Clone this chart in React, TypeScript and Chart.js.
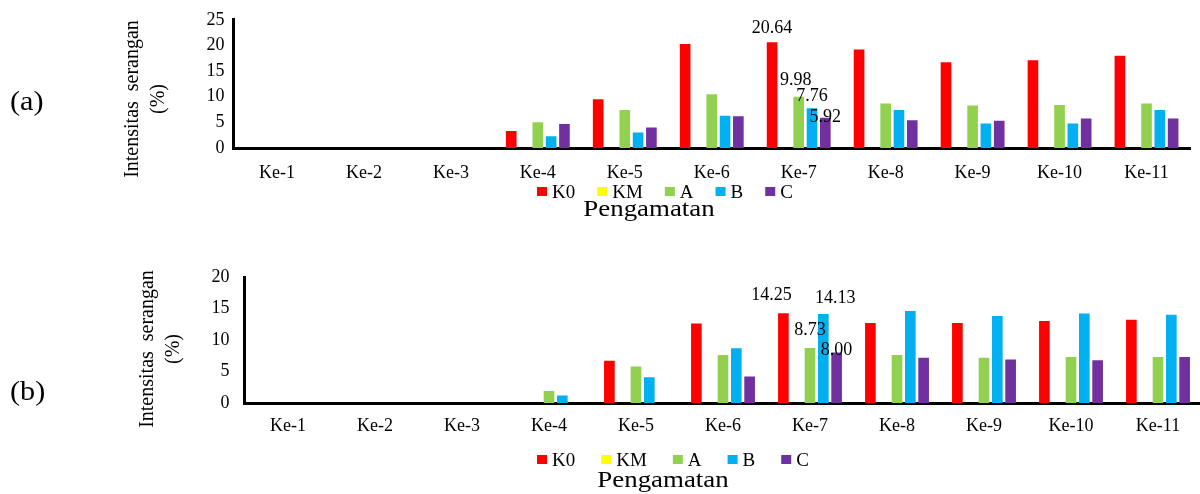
import React, { useEffect, useRef } from "react";
import { Chart, registerables } from "chart.js";

Chart.register(...registerables);

const FONT = "'Liberation Serif', 'Times New Roman', serif";

// ---- data ----
const categories = ["Ke-1", "Ke-2", "Ke-3", "Ke-4", "Ke-5", "Ke-6", "Ke-7", "Ke-8", "Ke-9", "Ke-10", "Ke-11"];
const seriesNames = ["K0", "KM", "A", "B", "C"];
const seriesColors = ["#FF0000", "#FFFF00", "#92D050", "#00B0F0", "#7030A0"];

// Panel (a)
const aK0 = [0, 0, 0, 3.3, 9.5, 20.3, 20.64, 19.2, 16.7, 17.1, 18.0];
const aKM = [0, 0, 0, 0, 0, 0, 0, 0, 0, 0, 0];
const aA = [0, 0, 0, 5.0, 7.4, 10.5, 9.98, 8.7, 8.3, 8.4, 8.7];
const aB = [0, 0, 0, 2.3, 3.0, 6.3, 7.76, 7.4, 4.8, 4.8, 7.4];
const aC = [0, 0, 0, 4.7, 4.0, 6.2, 5.92, 5.4, 5.3, 5.75, 5.75];
const aYMax = 25;

// Panel (b)
const bK0 = [0, 0, 0, 0, 6.7, 12.6, 14.25, 12.7, 12.7, 13.0, 13.2];
const bKM = [0, 0, 0, 0, 0, 0, 0, 0, 0, 0, 0];
const bA = [0, 0, 0, 1.9, 5.8, 7.6, 8.73, 7.6, 7.2, 7.3, 7.3];
const bB = [0, 0, 0, 1.2, 4.1, 8.7, 14.13, 14.6, 13.8, 14.2, 14.0];
const bC = [0, 0, 0, 0, 0, 4.2, 8.0, 7.2, 6.9, 6.8, 7.3];
const bYMax = 20;

const yStep = 5;
const yTitleLine1 = "Intensitas  serangan";
const yTitleLine2 = "(%)";
const xTitle = "Pengamatan";

// value labels shown (series index, category index) with text offsets
const aLabels = [
  { s: 0, i: 6, dx: 0, dy: -14 },
  { s: 2, i: 6, dx: -3, dy: -17 },
  { s: 3, i: 6, dx: 0, dy: -12 },
  { s: 4, i: 6, dx: 0, dy: 0 },
];
const bLabels = [
  { s: 0, i: 6, dx: -12, dy: -18 },
  { s: 2, i: 6, dx: 0, dy: -18 },
  { s: 3, i: 6, dx: 12, dy: -16 },
  { s: 4, i: 6, dx: 0, dy: -2 },
];

type PanelCfg = {
  tag: string;
  values: number[][];
  yMax: number;
  width: number;
  height: number;
  top: number;
  padRight: number;
  padTop: number;
  yW: number;
  xH: number;
  yTickPad: number;
  xTickPad: number;
  tagY: number;
  title1X: number;
  title2X: number;
  titleY: number;
  legendX: number;
  legendY: number;
  legendGap: number;
  xTitleX: number;
  xTitleY: number;
  labels: { s: number; i: number; dx: number; dy: number }[];
};

function stretchText(ctx: CanvasRenderingContext2D, text: string, x: number, y: number, font: string, sx: number, align: CanvasTextAlign, baseline: CanvasTextBaseline) {
  ctx.save();
  ctx.font = font;
  ctx.textAlign = align;
  ctx.textBaseline = baseline;
  ctx.translate(x, y);
  ctx.scale(sx, 1);
  ctx.fillText(text, 0, 0);
  ctx.restore();
}

function overlayPlugin(cfg: PanelCfg) {
  return {
    id: "overlay",
    afterDraw(chart: any) {
      const ctx: CanvasRenderingContext2D = chart.ctx;
      ctx.save();
      ctx.fillStyle = "#000";
      // panel tag
      stretchText(ctx, cfg.tag, 10, cfg.tagY, `28px ${FONT}`, 1.08, "left", "middle");
      // y title (rotated, two lines)
      ctx.font = `20px ${FONT}`;
      ctx.textAlign = "center";
      ctx.textBaseline = "middle";
      ctx.save();
      ctx.translate(cfg.title1X, cfg.titleY);
      ctx.rotate(-Math.PI / 2);
      ctx.scale(1, 1.1);
      ctx.fillText(yTitleLine1, 0, 0);
      ctx.restore();
      ctx.save();
      ctx.translate(cfg.title2X, cfg.titleY);
      ctx.rotate(-Math.PI / 2);
      ctx.scale(1, 1.1);
      ctx.fillText(yTitleLine2, 0, 0);
      ctx.restore();
      // legend
      let x = cfg.legendX;
      ctx.font = `19px ${FONT}`;
      ctx.textAlign = "left";
      ctx.textBaseline = "alphabetic";
      seriesNames.forEach((n, k) => {
        ctx.fillStyle = seriesColors[k];
        ctx.fillRect(x, cfg.legendY - 11, 10, 9);
        x += 15;
        ctx.fillStyle = "#000";
        ctx.fillText(n, x, cfg.legendY);
        x += ctx.measureText(n).width + cfg.legendGap;
      });
      // x title
      stretchText(ctx, xTitle, cfg.xTitleX, cfg.xTitleY, `24px ${FONT}`, 1.12, "center", "alphabetic");
      // value labels
      ctx.font = `18px ${FONT}`;
      ctx.textAlign = "center";
      ctx.textBaseline = "middle";
      ctx.fillStyle = "#000";
      cfg.labels.forEach((l) => {
        const el = chart.getDatasetMeta(l.s).data[l.i];
        const v = chart.data.datasets[l.s].data[l.i] as number;
        ctx.fillText(v.toFixed(2), el.x + l.dx, el.y + l.dy);
      });
      ctx.restore();
    },
  };
}

function buildChart(canvas: HTMLCanvasElement, cfg: PanelCfg) {
  return new Chart(canvas, {
    type: "bar",
    data: {
      labels: categories,
      datasets: seriesNames.map((name, k) => ({
        label: name,
        data: cfg.values[k],
        backgroundColor: seriesColors[k],
        borderWidth: 0,
        categoryPercentage: 0.765,
        barPercentage: 0.8,
      })),
    },
    options: {
      animation: false,
      responsive: false,
      devicePixelRatio: 1,
      layout: { padding: { left: 0, right: cfg.padRight, top: cfg.padTop, bottom: 0 } },
      plugins: { legend: { display: false }, tooltip: { enabled: false } },
      scales: {
        x: {
          grid: { display: false, drawTicks: false },
          border: { display: true, color: "#000", width: 3 },
          ticks: { color: "#000", font: { family: FONT, size: 18 }, padding: cfg.xTickPad, maxRotation: 0, autoSkip: false },
          afterFit(s: any) {
            s.height = cfg.xH;
          },
        },
        y: {
          min: 0,
          max: cfg.yMax,
          grid: { display: false, drawTicks: false },
          border: { display: true, color: "#000", width: 3 },
          ticks: { stepSize: yStep, color: "#000", font: { family: FONT, size: 18 }, padding: cfg.yTickPad },
          afterFit(s: any) {
            s.width = cfg.yW;
          },
        },
      },
    } as any,
    plugins: [overlayPlugin(cfg)],
  });
}

const panelA: PanelCfg = {
  tag: "(a)",
  values: [aK0, aKM, aA, aB, aC],
  yMax: aYMax,
  width: 1200,
  height: 247,
  top: 0,
  padRight: 10,
  padTop: 19,
  yW: 233.5,
  xH: 99,
  yTickPad: 9,
  xTickPad: 14,
  tagY: 103,
  title1X: 132,
  title2X: 158,
  titleY: 99,
  legendX: 537,
  legendY: 198,
  legendGap: 22,
  xTitleX: 649,
  xTitleY: 216,
  labels: aLabels,
};

const panelB: PanelCfg = {
  tag: "(b)",
  values: [bK0, bKM, bA, bB, bC],
  yMax: bYMax,
  width: 1210,
  height: 247,
  top: 247,
  padRight: 8.5,
  padTop: 30,
  yW: 244.5,
  xH: 91,
  yTickPad: 15,
  xTickPad: 12,
  tagY: 146,
  title1X: 147,
  title2X: 173,
  titleY: 102,
  legendX: 537,
  legendY: 219,
  legendGap: 26,
  xTitleX: 663,
  xTitleY: 240,
  labels: bLabels,
};

function Panel({ cfg }: { cfg: PanelCfg }) {
  const ref = useRef<HTMLCanvasElement | null>(null);
  useEffect(() => {
    if (!ref.current) return;
    const chart = buildChart(ref.current, cfg);
    return () => chart.destroy();
  }, [cfg]);
  return (
    <canvas
      ref={ref}
      width={cfg.width}
      height={cfg.height}
      style={{ position: "absolute", left: 0, top: cfg.top, width: cfg.width, height: cfg.height, display: "block" }}
    />
  );
}

export default function App() {
  return (
    <div style={{ position: "absolute", left: 0, top: 0, width: 1200, height: 494, overflow: "hidden", background: "#fff" }}>
      <Panel cfg={panelA} />
      <Panel cfg={panelB} />
    </div>
  );
}
